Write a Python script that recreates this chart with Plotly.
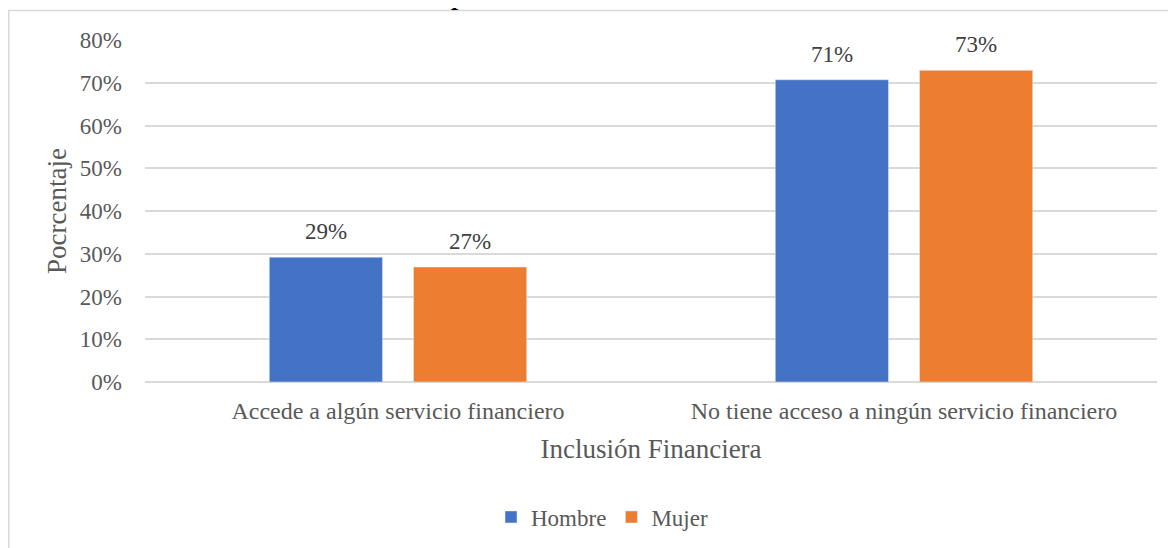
import plotly.graph_objects as go

categories = ["Accede a algún servicio financiero", "No tiene acceso a ningún servicio financiero"]
hombre = [29.2, 70.7]
mujer = [26.9, 72.9]
hombre_labels = ["29%", "71%"]
mujer_labels = ["27%", "73%"]
y_ticks = [0, 10, 20, 30, 40, 50, 60, 70, 80]
y_tick_labels = ["0%", "10%", "20%", "30%", "40%", "50%", "60%", "70%", "80%"]

FONT = "Liberation Serif"
GRAY = "#595959"
OFF = 8  # page body margin offset

W, H = 1176, 548
# plot area in page pixels: x 145..1157, y 40..382
L = 145 - OFF
R = W - (1157 - OFF)
T = 40 - OFF
B = H - (382 - OFF)
pw, ph = W - L - R, H - T - B
def px(x): return (x - OFF - L) / pw
def py(y): return 1 + (T - (y - OFF)) / ph

fig = go.Figure()
fig.add_trace(go.Bar(name="Hombre", x=categories, y=hombre, marker_color="#4472C4"))
fig.add_trace(go.Bar(name="Mujer", x=categories, y=mujer, marker_color="#ED7D31"))

annotations = []
for cat, v, lab in zip(categories, hombre, hombre_labels):
    annotations.append(dict(x=cat, y=v, xref="x", yref="y", text=lab, showarrow=False,
                            xanchor="center", yanchor="bottom", xshift=-72, yshift=11,
                            font=dict(family=FONT, size=23, color="#404040")))
for cat, v, lab in zip(categories, mujer, mujer_labels):
    annotations.append(dict(x=cat, y=v, xref="x", yref="y", text=lab, showarrow=False,
                            xanchor="center", yanchor="bottom", xshift=72, yshift=11,
                            font=dict(family=FONT, size=23, color="#404040")))
annotations.append(dict(text="<b><i>p</i></b>", xref="paper", yref="paper", x=px(458), y=py(13),
                        xanchor="center", yanchor="bottom", showarrow=False,
                        font=dict(family=FONT, size=26, color="black")))

fig.update_layout(
    width=W, height=H,
    margin=dict(l=L, r=R, t=T, b=B),
    paper_bgcolor="white", plot_bgcolor="white",
    barmode="group", bargap=0.43, bargroupgap=0.215,
    font=dict(family=FONT, color=GRAY, size=23),
    showlegend=True,
    legend=dict(orientation="h", x=px(602), xanchor="center", y=py(517), yanchor="middle",
                font=dict(family=FONT, size=23, color=GRAY), itemwidth=30, traceorder="normal"),
    xaxis=dict(title=dict(text="Inclusión Financiera", font=dict(family=FONT, size=27, color=GRAY), standoff=16),
               tickfont=dict(family=FONT, size=24, color=GRAY), showgrid=False, showline=False, ticks="",
               ticklabelstandoff=12),
    yaxis=dict(title=dict(text="Pocrcentaje", font=dict(family=FONT, size=27, color=GRAY), standoff=5),
               range=[0, 80], tickvals=y_ticks, ticktext=y_tick_labels,
               tickfont=dict(family=FONT, size=23, color=GRAY),
               showgrid=True, gridcolor="#D9D9D9", gridwidth=1.5, zeroline=True, zerolinecolor="#D9D9D9",
               zerolinewidth=1.5, ticks="", showline=False, ticklabelstandoff=22),
    shapes=[
        dict(type="line", xref="paper", yref="paper", x0=px(8), x1=px(1190), y0=py(10.5), y1=py(10.5),
             line=dict(color="#D9D9D9", width=1.5)),
        dict(type="line", xref="paper", yref="paper", x0=px(8.8), x1=px(8.8), y0=py(10), y1=py(560),
             line=dict(color="#D9D9D9", width=1.5)),
    ],
    annotations=annotations,
)

fig.write_html("out.html")
